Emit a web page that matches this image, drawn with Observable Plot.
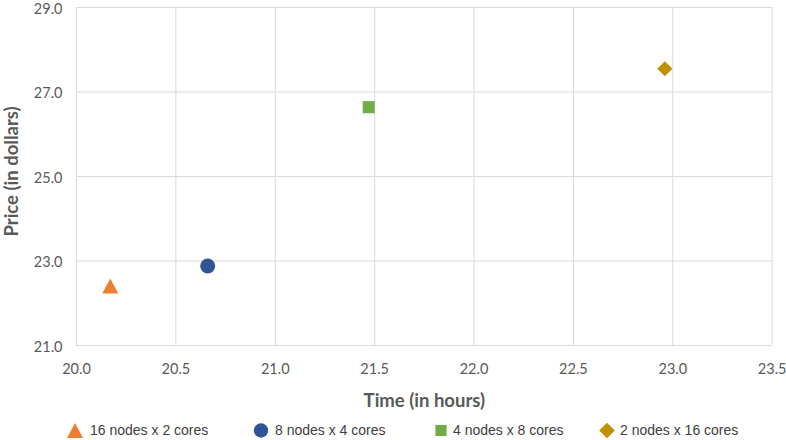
<!DOCTYPE html>
<html><head><meta charset="utf-8">
<script src="https://cdn.jsdelivr.net/npm/d3@7"></script>
<script src="https://cdn.jsdelivr.net/npm/@observablehq/plot@0.6"></script>
<style>
body{margin:0;background:#fff;}
#chart{width:786px;height:440px;position:relative;background:#fff;}
</style></head><body><div id="chart"></div>
<script>
// ---- data ----
const series = ["16 nodes x 2 cores", "8 nodes x 4 cores", "4 nodes x 8 cores", "2 nodes x 16 cores"];
const timeHours = [20.17, 20.66, 21.47, 22.96];
const priceDollars = [22.41, 22.88, 26.64, 27.55];
const xTicks = [20.0, 20.5, 21.0, 21.5, 22.0, 22.5, 23.0, 23.5];
const yTicks = [21.0, 23.0, 25.0, 27.0, 29.0];
const xLabel = "Time (in hours)";
const yLabel = "Price (in dollars)";

// ---- styles ----
const colors = ["#ED7D31", "#2F5597", "#70AD47", "#BF9000"];
const triSym = {draw(ctx, size){ const r = Math.sqrt(size/Math.PI); const w = r*16/15; ctx.moveTo(0,-r); ctx.lineTo(w,r); ctx.lineTo(-w,r); ctx.closePath(); }};
const diaSym = {draw(ctx, size){ const r = Math.sqrt(size/Math.PI); ctx.moveTo(0,-r); ctx.lineTo(r,0); ctx.lineTo(0,r); ctx.lineTo(-r,0); ctx.closePath(); }};
const symbols = [triSym, "circle", "square", diaSym];
const radii = [7.5, 7.5, 6.8, 7.6];

const data = series.map((s, i) => ({series: s, time: timeHours[i], price: priceDollars[i], i}));

const W = 786, H = 414;
const fmt = d3.format(".1f");
const grid = "#d9d9d9";

const plot = Plot.plot({
  width: W, height: H,
  marginLeft: 76, marginRight: 14.3, marginTop: 7, marginBottom: H - 345,
  style: {fontFamily: "Lato, 'Open Sans', sans-serif", fontSize: "14.5px", color: "#595959", background: "#fff"},
  x: {domain: [20, 23.5]},
  y: {domain: [21, 29]},
  marks: [
    Plot.gridX(xTicks, {stroke: grid, strokeOpacity: 1}),
    Plot.gridY(yTicks, {stroke: grid, strokeOpacity: 1}),
    Plot.axisX(xTicks, {tickSize: 0, tickPadding: 18, tickFormat: fmt, label: null}),
    Plot.axisY(yTicks, {tickSize: 0, tickPadding: 14, tickFormat: fmt, label: null, dy: 1.5}),
    ...data.map((d, i) => Plot.dot([d], {x: "time", y: "price", symbol: symbols[i], r: radii[i], fill: colors[i]})),
    Plot.text([xLabel], {text: d => d, frameAnchor: "bottom", textAnchor: "middle", lineAnchor: "middle", dy: 56, fontWeight: "bold", fontSize: 18.5}),
    Plot.text([yLabel], {text: d => d, frameAnchor: "left", textAnchor: "middle", lineAnchor: "middle", rotate: -90, dx: -64, dy: -5, fontWeight: "bold", fontSize: 18.5})
  ]
});
const chart = document.getElementById("chart");
chart.appendChild(plot);

// ---- legend ----
const legendMarkerX = [75, 261, 441, 607];
const legendTextX = [90, 275, 453, 620];
const legendSizes = [7.5, 7.2, 6.3, 7.8];
const leg = d3.select(chart).append("svg").attr("width", W).attr("height", 26).style("display", "block");
series.forEach((s, i) => {
  const sym = typeof symbols[i] === "string" ? (symbols[i] === "circle" ? d3.symbolCircle : d3.symbolSquare) : symbols[i];
  leg.append("path")
    .attr("d", d3.symbol().type(sym).size(Math.PI * legendSizes[i] * legendSizes[i])())
    .attr("transform", `translate(${legendMarkerX[i]},16.5)`)
    .attr("fill", colors[i]);
  leg.append("text")
    .attr("x", legendTextX[i]).attr("y", 16).attr("dy", "0.35em")
    .attr("font-family", "'Liberation Sans', Arial, sans-serif").attr("font-size", 14)
    .attr("fill", "#404040").text(s);
});
</script>
</body></html>
